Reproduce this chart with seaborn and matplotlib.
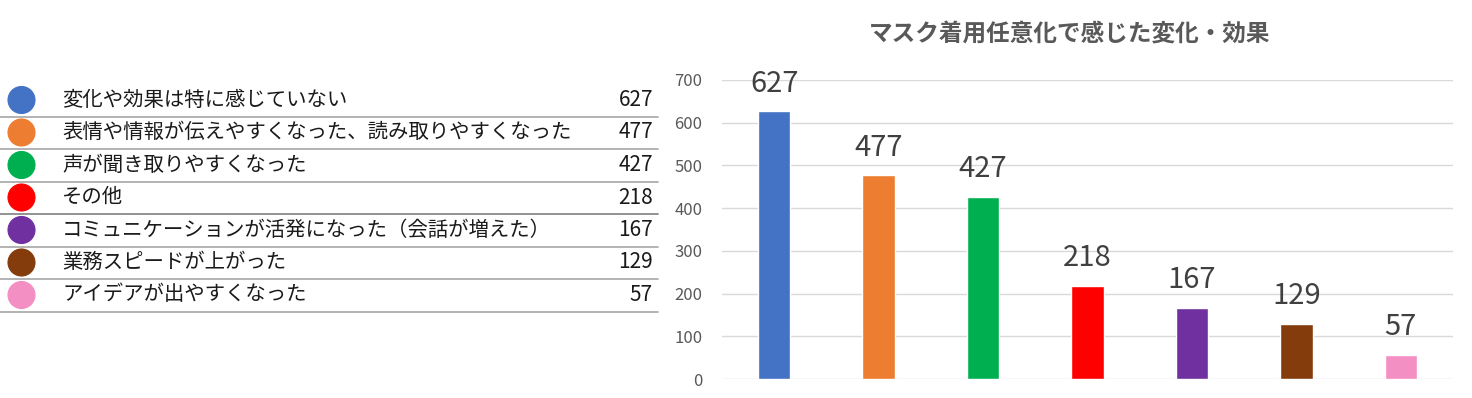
import matplotlib
matplotlib.use("Agg")
import matplotlib.pyplot as plt
from matplotlib.patches import Ellipse
import seaborn as sns

categories = [
    "変化や効果は特に感じていない",
    "表情や情報が伝えやすくなった、読み取りやすくなった",
    "声が聞き取りやすくなった",
    "その他",
    "コミュニケーションが活発になった（会話が増えた）",
    "業務スピードが上がった",
    "アイデアが出やすくなった",
]
values = [627, 477, 427, 218, 167, 129, 57]
colors = ["#4472C4", "#ED7D31", "#00B050", "#FF0000", "#7030A0", "#843C0C", "#F48FC4"]
title = "マスク着用任意化で感じた変化・効果"
yticks = [0, 100, 200, 300, 400, 500, 600, 700]

sns.set_theme(style="white")
plt.rcParams['font.family'] = ['Noto Sans CJK JP', 'DejaVu Sans']

W, H = 1472, 398
fig = plt.figure(figsize=(W / 100, H / 100), dpi=100)

# ---- left table (pixel coordinate axes) ----
tab = fig.add_axes([0, 0, 1, 1])
tab.set_xlim(0, W)
tab.set_ylim(H, 0)
tab.axis("off")
row0, step = 100, 32.5
for i, (cat, val, col) in enumerate(zip(categories, values, colors)):
    y = row0 + i * step
    tab.add_patch(Ellipse((21.5, y), 27, 27, facecolor=col, edgecolor=col, lw=0.8))
    tab.text(62, y, cat, fontsize=14.7, color="#1a1a1a", va="center", ha="left")
    tab.text(653, y, str(val), fontsize=15, color="#1a1a1a", va="center", ha="right")
    lc = "#7f7f7f" if i == 3 else "#a6a6a6"
    tab.plot([0, 658], [y + 16.5, y + 16.5], color=lc, lw=1.2)

# ---- bar chart ----
left, right = 722 / W, 1453 / W
bottom, top = (H - 379) / H, (H - 80) / H
ax = fig.add_axes([left, bottom, right - left, top - bottom])
sns.barplot(x=categories, y=values, hue=categories, palette=colors,
            width=0.31, legend=False, ax=ax, saturation=1)
ax.set_ylim(0, 700)
ax.set_xlim(-0.5, len(categories) - 0.5)
ax.set_yticks(yticks)
ax.set_yticklabels([str(t) for t in yticks], fontsize=12, color="#595959")
ax.set_xticks([])
ax.set_xlabel("")
ax.set_ylabel("")
ax.tick_params(axis="y", length=0, pad=14)
for s in ax.spines.values():
    s.set_visible(False)
ax.grid(axis="y", color="#d9d9d9", lw=1)
ax.set_axisbelow(True)
for i, v in enumerate(values):
    ax.annotate(str(v), (i, v), xytext=(0, 9), textcoords="offset points",
                ha="center", va="bottom", fontsize=21, color="#404040")
fig.text(1070 / W, 1 - 35 / H, title, ha="center", va="center",
         fontsize=17, fontweight="bold", color="#595959")

fig.savefig("out.png", dpi=100)
